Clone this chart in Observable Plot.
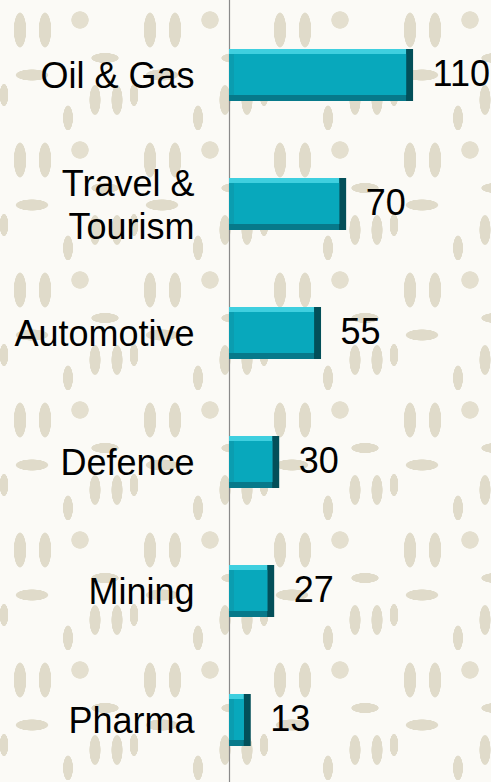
<!DOCTYPE html>
<html>
<head>
<meta charset="utf-8">
<script src="https://cdn.jsdelivr.net/npm/d3@7"></script>
<script src="https://cdn.jsdelivr.net/npm/@observablehq/plot@0.6"></script>
<style>
  html, body { margin: 0; padding: 0; }
  body {
    width: 491px; height: 782px; overflow: hidden;
    background-color: #fbfaf6;
    background-image:
      radial-gradient(ellipse 10px 28px at 20px 30px, #e0dbca 60%, transparent 64%),
      radial-gradient(ellipse 10px 28px at 45px 30px, #e0dbca 60%, transparent 64%),
      radial-gradient(ellipse 26px 9px at 32px 75px, #e0dbca 60%, transparent 64%),
      radial-gradient(ellipse 9px 24px at 95px 100px, #e0dbca 60%, transparent 64%),
      radial-gradient(ellipse 9px 24px at 117px 100px, #e0dbca 60%, transparent 64%),
      radial-gradient(ellipse 22px 8px at 105px 58px, #e0dbca 60%, transparent 64%),
      radial-gradient(ellipse 8px 20px at 68px 118px, #e0dbca 60%, transparent 64%),
      radial-gradient(ellipse 14px 14px at 80px 20px, #e4dfcf 60%, transparent 64%),
      radial-gradient(ellipse 7px 18px at 4px 95px, #e0dbca 60%, transparent 64%);
    background-size: 130px 130px;
  }
  #chart { position: absolute; left: 0; top: 0; }
</style>
</head>
<body>
<div id="chart"></div>
<script>
const categories = ["Oil & Gas", "Travel &\nTourism", "Automotive", "Defence", "Mining", "Pharma"];
const values = [110, 70, 55, 30, 27, 13];

const data = categories.map((c, i) => ({category: c, value: values[i]}));
const font = "Liberation Sans, Arial, sans-serif";

const chart = Plot.plot({
  width: 491,
  height: 782,
  marginLeft: 229,
  marginRight: 11,
  marginTop: 0,
  marginBottom: 0,
  style: {background: "transparent", fontFamily: font},
  x: {domain: [0, 150], axis: null},
  y: {domain: categories, axis: null, paddingInner: 0.6, paddingOuter: 0.3215, align: 0.572},
  marks: [
    Plot.ruleX([0], {stroke: "#8a8a8a", strokeWidth: 1.2}),
    // bevel: darkest right edge
    Plot.barX(data, {y: "category", x: "value", fill: "#034f59"}),
    // dark bottom edge
    Plot.barX(data, {y: "category", x: "value", fill: "#07798a", insetRight: 7}),
    // light top edge
    Plot.barX(data, {y: "category", x: "value", fill: "#3fcfdf", insetBottom: 6, insetRight: 7}),
    // left edge
    Plot.barX(data, {y: "category", x: "value", fill: "#0b9db0", insetTop: 5, insetBottom: 6, insetRight: 7}),
    // main face
    Plot.barX(data, {y: "category", x: "value", fill: "#08a8bc", insetTop: 5, insetBottom: 6, insetLeft: 5, insetRight: 7}),
    // value labels
    Plot.text(data, {y: "category", x: "value", text: d => String(d.value), dx: 19, dy: -1,
      textAnchor: "start", fontSize: 36, fill: "#000", fontFamily: font}),
    // category labels
    Plot.text(data, {y: "category", x: () => 0, text: "category", dx: -35, dy: -1,
      textAnchor: "end", fontSize: 36, lineHeight: 1.2, fill: "#000", fontFamily: font})
  ]
});
document.getElementById("chart").appendChild(chart);
</script>
</body>
</html>
